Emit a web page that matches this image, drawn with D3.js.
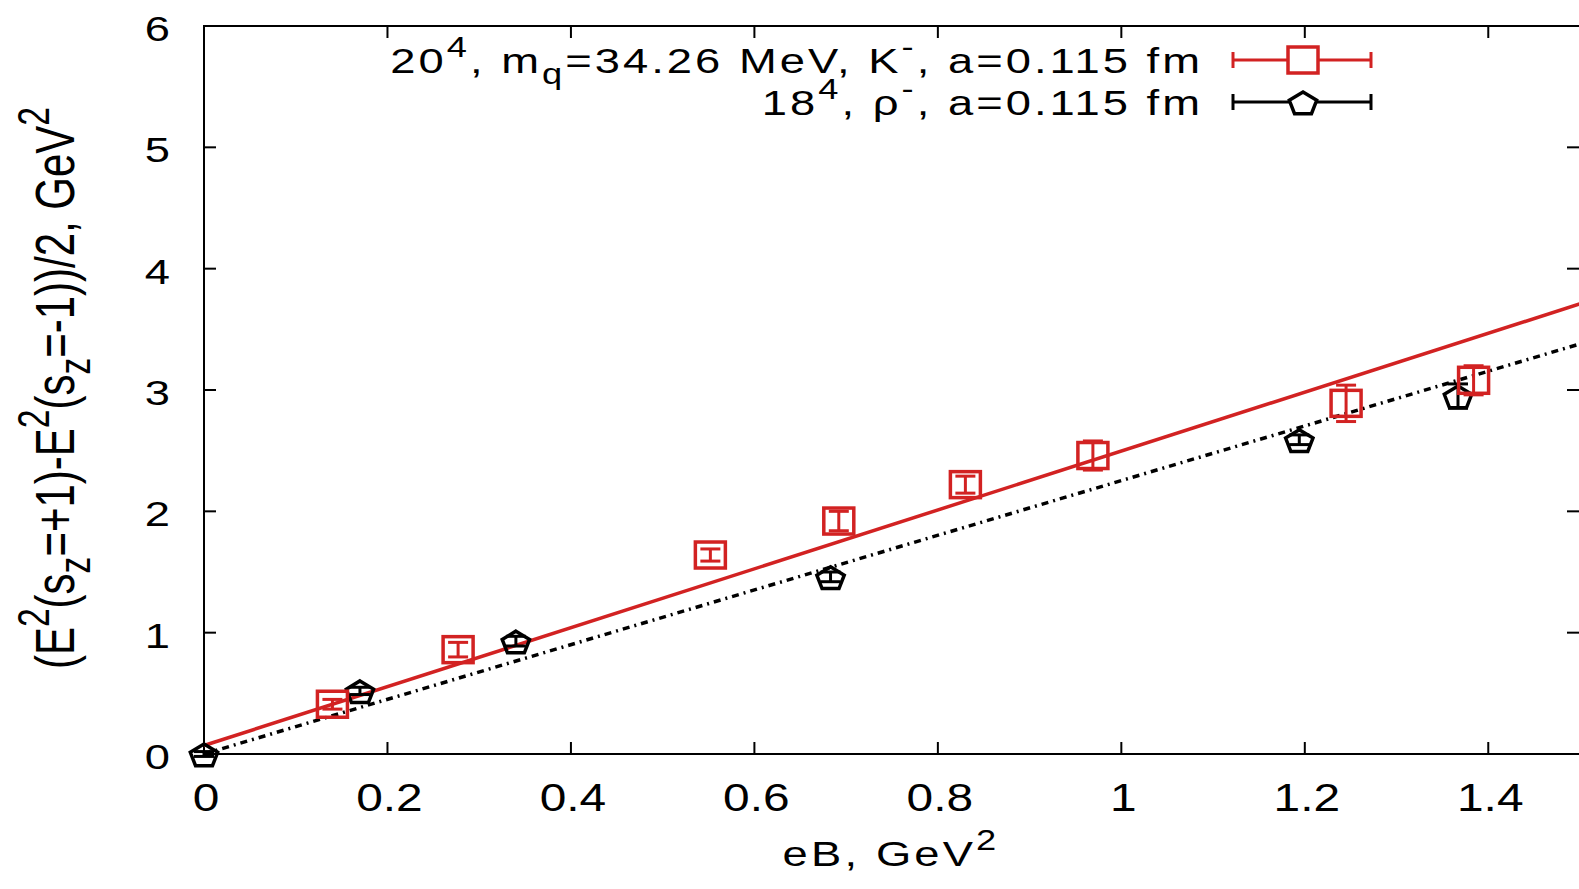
<!DOCTYPE html>
<html lang="en">
<head>
<meta charset="UTF-8">
<title>eB splitting</title>
<script src="https://d3js.org/d3.v7.min.js"></script>
<style>
  body { margin: 0; background: white; }
  svg { display: block; font-family: "Liberation Sans", Arial, sans-serif; }
  text { fill: black; }
</style>
</head>
<body>
<div id="chart"></div>
<script>
// K- data (red squares)
const kX   = [0.14, 0.277, 0.552, 0.692, 0.83, 0.969, 1.245, 1.384];
const kY   = [0.41, 0.86, 1.64, 1.92, 2.22, 2.46, 2.89, 3.08];
const kErr = [0.04, 0.06, 0.05, 0.08, 0.07, 0.12, 0.15, 0.12];
// rho- data (black pentagons)
const rX   = [0, 0.17, 0.34, 0.683, 1.194, 1.367];
const rY   = [0, 0.52, 0.93, 1.46, 2.59, 2.95];
const rErr = [0.02, 0.03, 0.04, 0.04, 0.04, 0.1];
// linear fits (endpoints)
const fitX  = [0, 1.5];
const kFit  = [0.07, 3.71];
const rFit  = [0.0, 3.38];
const xTicks = [0, 0.2, 0.4, 0.6, 0.8, 1, 1.2, 1.4];
const yTicks = [0, 1, 2, 3, 4, 5, 6];

const W = 1579, H = 889;
const red = "#d22222";
const SX = 1.26; // the whole original picture is stretched sideways
const svg = d3.select("#chart").append("svg").attr("width", W).attr("height", H);

const x = d3.scaleLinear().domain([0, 1.5]).range([204, 1580]);
const y = d3.scaleLinear().domain([0, 6]).range([754, 26]);

// horizontal text, stretched sideways around its anchor
function hText(px, py, anchor, size, spacing) {
  return svg.append("g").attr("transform", `translate(${px},${py}) scale(${SX},1)`)
    .append("text").attr("text-anchor", anchor).attr("font-size", size)
    .attr("letter-spacing", spacing || 0);
}
function rich(sel, parts, size) {
  let shift = 0;
  parts.forEach(p => {
    const t = sel.append("tspan").text(p.t);
    let target = 0;
    if (p.s === "sup") { t.attr("font-size", size * 0.8); target = -size * 0.45; }
    if (p.s === "sub") { t.attr("font-size", size * 0.8); target = size * 0.3; }
    if (target !== shift) t.attr("dy", target - shift);
    shift = target;
  });
}

// frame
svg.append("rect").attr("x", 204).attr("y", 26).attr("width", 1376).attr("height", 728)
  .attr("fill", "none").attr("stroke", "black").attr("stroke-width", 2);

// ticks (inward, mirrored)
const tl = 12;
xTicks.forEach(t => {
  svg.append("line").attr("x1", x(t)).attr("x2", x(t)).attr("y1", 754).attr("y2", 754 - tl).attr("stroke", "black").attr("stroke-width", 2);
  svg.append("line").attr("x1", x(t)).attr("x2", x(t)).attr("y1", 26).attr("y2", 26 + tl).attr("stroke", "black").attr("stroke-width", 2);
  hText(x(t) + 2, 811, "middle", 38).text(d3.format("~g")(t));
});
yTicks.forEach(t => {
  svg.append("line").attr("x1", 204).attr("x2", 204 + tl).attr("y1", y(t)).attr("y2", y(t)).attr("stroke", "black").attr("stroke-width", 2);
  svg.append("line").attr("x1", 1579).attr("x2", 1579 - tl).attr("y1", y(t)).attr("y2", y(t)).attr("stroke", "black").attr("stroke-width", 2);
  hText(170, y(t) + 15, "end", 36).text(t);
});

// fit lines
const line = d3.line().x(d => x(d[0])).y(d => y(d[1]));
svg.append("path").attr("d", line(fitX.map((v, i) => [v, rFit[i]])))
  .attr("fill", "none").attr("stroke", "black").attr("stroke-width", 3.5).attr("stroke-dasharray", "7,5,2,5");
svg.append("path").attr("d", line(fitX.map((v, i) => [v, kFit[i]])))
  .attr("fill", "none").attr("stroke", red).attr("stroke-width", 3.5);

// markers
const pent = d3.symbol().type({
  draw(ctx, size) {
    const r = Math.sqrt(size) / 2;
    for (let i = 0; i < 5; i++) {
      const a = -Math.PI / 2 + i * 2 * Math.PI / 5;
      const px = r * Math.cos(a) * 1.2, py = r * Math.sin(a);
      i ? ctx.lineTo(px, py) : ctx.moveTo(px, py);
    }
    ctx.closePath();
  }
}).size(576);

function errBar(g, cx, y1, y2, color) {
  g.append("line").attr("x1", cx).attr("x2", cx).attr("y1", y1).attr("y2", y2).attr("stroke", color).attr("stroke-width", 3);
  [y1, y2].forEach(yy => g.append("line").attr("x1", cx - 10).attr("x2", cx + 10).attr("y1", yy).attr("y2", yy).attr("stroke", color).attr("stroke-width", 3));
}

const gR = svg.append("g");
rX.forEach((v, i) => {
  const cx = x(v), cy = y(rY[i]);
  errBar(gR, cx, y(rY[i] + rErr[i]), y(rY[i] - rErr[i]), "black");
  gR.append("path").attr("d", pent()).attr("transform", `translate(${cx},${cy + 2})`)
    .attr("fill", "none").attr("stroke", "black").attr("stroke-width", 3.5);
});
const gK = svg.append("g");
kX.forEach((v, i) => {
  const cx = x(v), cy = y(kY[i]);
  errBar(gK, cx, y(kY[i] + kErr[i]), y(kY[i] - kErr[i]), red);
  gK.append("rect").attr("x", cx - 15).attr("y", cy - 13).attr("width", 30).attr("height", 26)
    .attr("fill", "none").attr("stroke", red).attr("stroke-width", 3.5);
});

// legend
const fs = 36;
rich(hText(1203, 73, "end", fs, 2.4), [
  {t: "20"}, {t: "4", s: "sup"}, {t: ", m"}, {t: "q", s: "sub"},
  {t: "=34.26 MeV, K"}, {t: "-", s: "sup"}, {t: ", a=0.115 fm"}
], fs);
rich(hText(1203, 115, "end", fs, 2.4), [
  {t: "18"}, {t: "4", s: "sup"}, {t: ", ρ"}, {t: "-", s: "sup"}, {t: ", a=0.115 fm"}
], fs);

[[60, red, "sq"], [102, "black", "pent"]].forEach(([ly, c, m]) => {
  svg.append("line").attr("x1", 1233).attr("x2", 1371).attr("y1", ly).attr("y2", ly).attr("stroke", c).attr("stroke-width", 3);
  [1233, 1371].forEach(xx => svg.append("line").attr("x1", xx).attr("x2", xx).attr("y1", ly - 8).attr("y2", ly + 8).attr("stroke", c).attr("stroke-width", 3));
  if (m === "sq") svg.append("rect").attr("x", 1288).attr("y", ly - 13).attr("width", 30).attr("height", 26).attr("fill", "white").attr("stroke", c).attr("stroke-width", 3.5);
  else svg.append("path").attr("d", pent()).attr("transform", `translate(1303,${ly + 2})`).attr("fill", "white").attr("stroke", c).attr("stroke-width", 3.5);
});

// axis titles
rich(hText(891, 866, "middle", 36, 2.5), [{t: "eB, GeV"}, {t: "2", s: "sup"}], 36);

const yt = svg.append("g").attr("transform", `translate(74,388) scale(1.3,1) rotate(-90)`)
  .append("text").attr("text-anchor", "middle").attr("font-size", 42);
rich(yt, [
  {t: "(E"}, {t: "2", s: "sup"}, {t: "(s"}, {t: "z", s: "sub"}, {t: "=+1)-E"},
  {t: "2", s: "sup"}, {t: "(s"}, {t: "z", s: "sub"}, {t: "=-1))/2, GeV"},
  {t: "2", s: "sup"}
], 42);
</script>
</body>
</html>
